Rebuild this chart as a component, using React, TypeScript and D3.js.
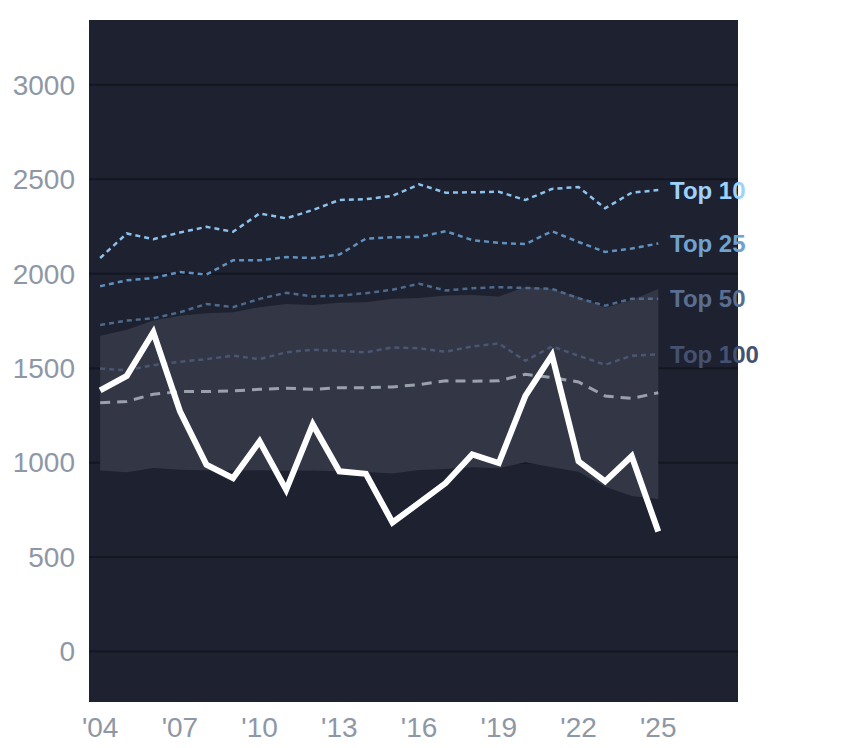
import React from "react";
import * as d3 from "d3";

const years = d3.range(2004, 2026);
const selected = [1383, 1459, 1690, 1273, 989, 918, 1113, 856, 1202, 954, 941, 683, 787, 892, 1043, 998, 1353, 1569, 1007, 901, 1034, 635];
const top10 = [2083, 2213, 2183, 2218, 2248, 2222, 2319, 2293, 2337, 2390, 2395, 2412, 2473, 2429, 2431, 2434, 2390, 2449, 2459, 2346, 2429, 2443];
const top25 = [1934, 1965, 1977, 2009, 1996, 2071, 2071, 2088, 2083, 2101, 2186, 2193, 2195, 2225, 2178, 2163, 2157, 2225, 2168, 2115, 2133, 2160];
const top50 = [1729, 1752, 1764, 1796, 1840, 1823, 1867, 1899, 1880, 1884, 1897, 1915, 1947, 1911, 1923, 1929, 1925, 1920, 1870, 1831, 1867, 1867];
const top100 = [1498, 1489, 1516, 1534, 1548, 1566, 1548, 1584, 1598, 1591, 1584, 1610, 1605, 1587, 1615, 1631, 1539, 1615, 1566, 1518, 1566, 1574];
const median = [1317, 1324, 1362, 1376, 1376, 1380, 1388, 1394, 1388, 1397, 1397, 1401, 1413, 1433, 1431, 1433, 1468, 1450, 1427, 1353, 1340, 1370];
const bandHigh = [1672, 1704, 1752, 1778, 1791, 1796, 1823, 1840, 1835, 1846, 1849, 1867, 1871, 1885, 1888, 1879, 1931, 1919, 1878, 1820, 1861, 1919];
const bandLow = [959, 949, 971, 963, 960, 958, 960, 957, 958, 955, 950, 943, 961, 966, 975, 970, 1002, 975, 952, 872, 823, 807];
const yTicks = [0, 500, 1000, 1500, 2000, 2500, 3000];
const xTicks = [2004, 2007, 2010, 2013, 2016, 2019, 2022, 2025];

const tierSeries = [
  { name: "Top 10", values: top10, line: "#8dc2ec", label: "#9fd2fb" },
  { name: "Top 25", values: top25, line: "#6091bf", label: "#6ea2d0" },
  { name: "Top 50", values: top50, line: "#4e6a8d", label: "#5a6f90" },
  { name: "Top 100", values: top100, line: "#4a5672", label: "#455170" },
];

const W = 844, H = 748;
const L = 89, R = 738, T = 20, B = 702;

export default function App() {
  const x = d3.scaleLinear().domain([2003.58, 2028]).range([L, R]);
  const y = d3.scaleLinear().domain([-267, 3343]).range([B, T]);
  const line = (vals: number[]) =>
    d3.line<number>().x((_, i) => x(years[i])).y((v) => y(v))(vals) || "";
  const area = d3
    .area<number>()
    .x((_, i) => x(years[i]))
    .y0((_, i) => y(bandLow[i]))
    .y1((_, i) => y(bandHigh[i]))(years.map((_, i) => i)) || "";
  const last = years.length - 1;
  const font = "'Liberation Sans', Arial, sans-serif";
  return (
    <svg width={W} height={H} style={{ position: "absolute", left: 0, top: 0, background: "#fff" }}>
      <rect x={L} y={T} width={R - L} height={B - T} fill="#1d2130" />
      {yTicks.map((t) => (
        <line key={t} x1={L} x2={R} y1={y(t)} y2={y(t)} stroke="#141720" strokeWidth={2} />
      ))}
      <path d={area} fill="#333745" />
      <path d={line(median)} fill="none" stroke="#9aa1ad" strokeWidth={3} strokeDasharray="10,7" />
      {tierSeries.map((s) => (
        <path key={s.name} d={line(s.values)} fill="none" stroke={s.line} strokeWidth={2.5} strokeDasharray="5,4" />
      ))}
      <path d={line(selected)} fill="none" stroke="#ffffff" strokeWidth={6} strokeLinejoin="miter" />
      {tierSeries.map((s) => (
        <text
          key={s.name + "l"}
          x={670}
          y={y(s.values[last])}
          dy="0.36em"
          fill={s.label}
          fontFamily={font}
          fontWeight="bold"
          fontSize={24}
        >
          {s.name}
        </text>
      ))}
      {yTicks.map((t) => (
        <text key={"y" + t} x={75} y={y(t)} dy="0.35em" textAnchor="end" fill="#8e97a6" fontFamily={font} fontSize={28}>
          {t}
        </text>
      ))}
      {xTicks.map((t) => (
        <text key={"x" + t} x={x(t)} y={737} textAnchor="middle" fill="#8e97a6" fontFamily={font} fontSize={28}>
          {"'" + String(t).slice(2)}
        </text>
      ))}
    </svg>
  );
}
